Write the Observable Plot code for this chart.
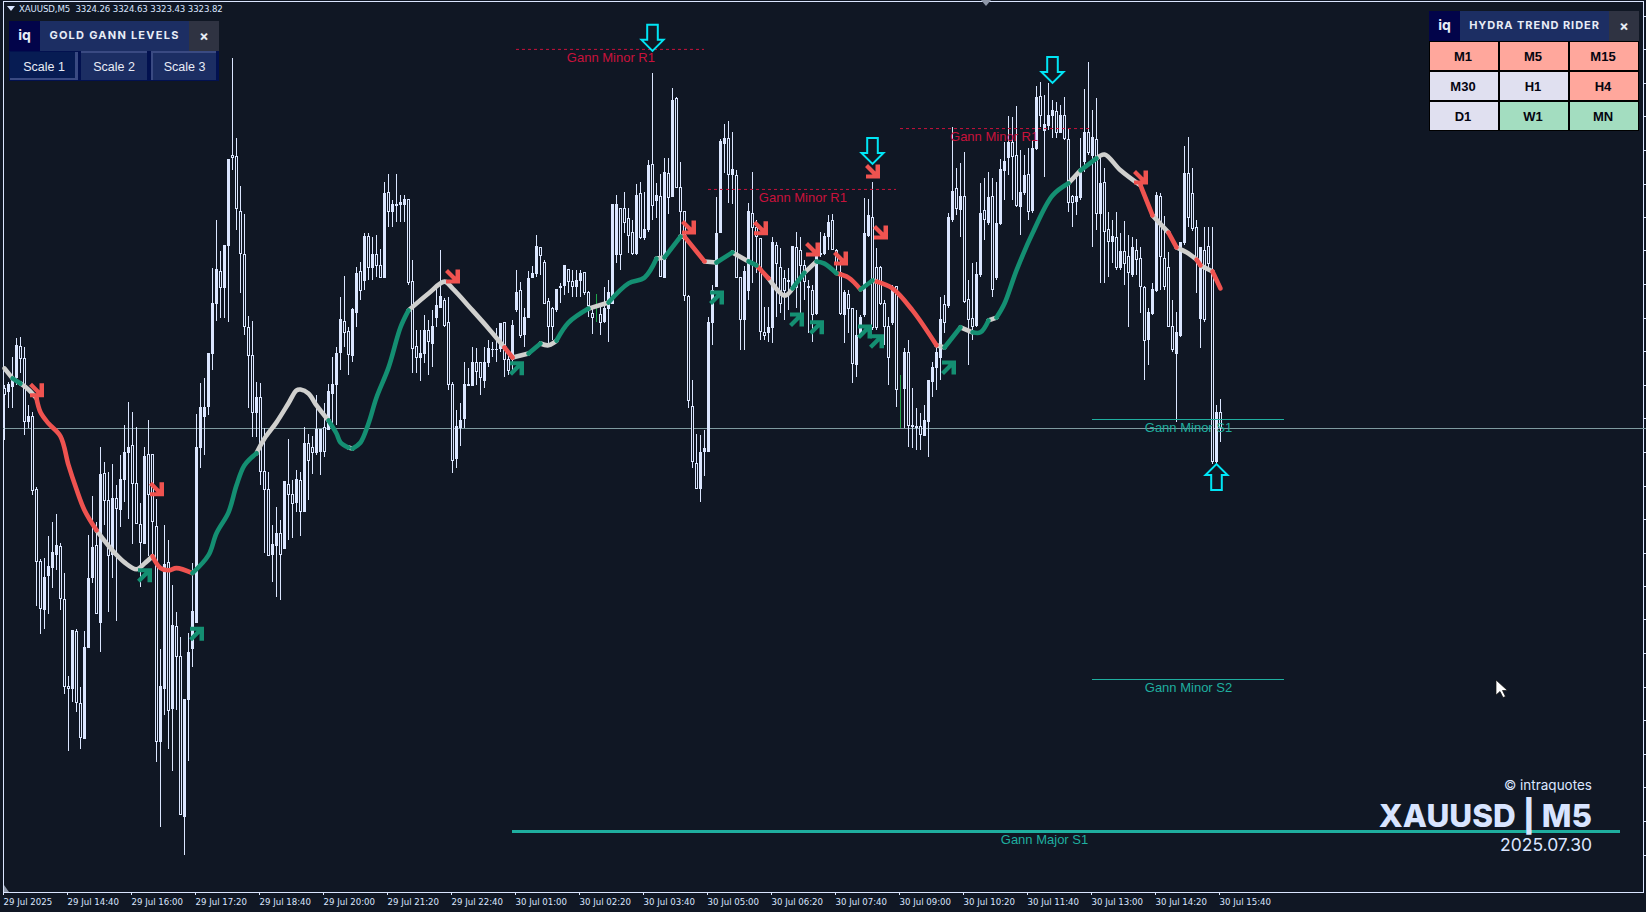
<!DOCTYPE html>
<html><head><meta charset="utf-8">
<script src="https://cdn.jsdelivr.net/npm/d3@7"></script>
<script src="https://cdn.jsdelivr.net/npm/@observablehq/plot@0.6"></script>
<style>
html,body{margin:0;padding:0;background:#101724;width:1646px;height:912px;overflow:hidden}
#chart{position:absolute;left:0;top:0}
.a{position:absolute;box-sizing:border-box;white-space:nowrap}
.cell{position:absolute;display:flex;align-items:center;justify-content:center;padding-right:2px;box-sizing:border-box;font:bold 13px "Liberation Sans",sans-serif;color:#050510}
.hd{display:flex;align-items:center;justify-content:center;color:#e8ecf6}
</style></head><body>
<div id="chart"></div>
<div class="a" style="left:7px;top:6px;width:0;height:0;border-left:4px solid transparent;border-right:4px solid transparent;border-top:5px solid #dbe6ff"></div>
<div class="a" style="left:19px;top:2px;font:8.6px/14px 'DejaVu Sans',sans-serif;color:#dbe6ff;letter-spacing:-.1px">XAUUSD,M5&nbsp; 3324.26 3324.63 3323.43 3323.82</div>
<div class="a" style="left:981px;top:0;width:0;height:0;border-left:5px solid transparent;border-right:5px solid transparent;border-top:6px solid #8e97a8"></div>
<div class="a" style="left:4px;top:885px;width:5px;height:7px;background:#8e97a8;clip-path:polygon(0 0,100% 100%,0 100%)"></div>

<div class="a hd" style="left:9px;top:21px;width:31px;height:30px;padding-bottom:3px;background:#02044a;font:bold 14px Inter,sans-serif">iq</div>
<div class="a hd" style="left:40px;top:21px;width:149px;height:30px;padding-bottom:2px;background:#1c2e63;font:bold 11px Inter,sans-serif;letter-spacing:1.25px">GOLD&nbsp;GANN&nbsp;LEVELS</div>
<div class="a hd" style="left:189px;top:21px;width:30px;height:30px;padding-bottom:1px;background:#2f3342;font:bold 14px Inter,sans-serif">×</div>
<div class="a" style="left:9px;top:51px;width:210px;height:30px;background:#02114f"></div>
<div class="a hd" style="left:10px;top:52px;width:68px;height:28px;padding-left:3px;padding-top:3px;background:#071c53;border-bottom:2px solid #3a4a82;border-right:3px solid #3a4a82;font:12.5px 'Liberation Sans',sans-serif">Scale 1</div>
<div class="a hd" style="left:81px;top:51px;width:66px;height:29px;background:#1c2e63;border-top:2px solid #3a4a82;font:12.5px 'Liberation Sans',sans-serif">Scale 2</div>
<div class="a hd" style="left:151px;top:51px;width:65px;height:29px;background:#1c2e63;border-top:2px solid #3a4a82;border-left:2px solid #3a4a82;font:12.5px 'Liberation Sans',sans-serif">Scale 3</div>

<div class="a hd" style="left:1429px;top:11px;width:31px;height:30px;padding-bottom:3px;background:#02044a;font:bold 14px Inter,sans-serif">iq</div>
<div class="a hd" style="left:1460px;top:11px;width:149px;height:30px;padding-bottom:3px;background:#1c2e63;font:bold 11px Inter,sans-serif;letter-spacing:.95px">HYDRA TREND RIDER</div>
<div class="a hd" style="left:1609px;top:11px;width:30px;height:30px;padding-bottom:2px;background:#2f3342;font:bold 14px Inter,sans-serif">×</div>
<div class="a" id="grid" style="left:1429px;top:41px;width:210px;height:90px;background:#000"></div>

<div class="a" style="right:54px;top:775px;font:13.5px/20px Inter,sans-serif;color:#dbe6ff">© intraquotes</div>
<div class="a" style="right:54px;top:796px;font:800 31.5px/40px Inter,sans-serif;color:#d8e4ff">XAUUSD | M5</div>
<div class="a" style="right:54px;top:834px;font:17.5px/22px Inter,sans-serif;color:#dbe6ff">2025.07.30</div>
<svg class="a" style="left:1495px;top:679px" width="14" height="20"><path d="M1 1V16L5 12.5L8 18.5L10.5 17.5L7.5 11.5H12.5Z" fill="#fff" stroke="#111" stroke-width=".7"/></svg>
<script>
// Panel content
const panelCells = ["M1","M5","M15","M30","H1","H4","D1","W1","MN"];
const panelStates = ["down","down","down","flat","flat","down","flat","up","up"];

// XAUUSD M5 candles, bar 0 = 29 Jul 2025 13:20. Prices are USD above priceBase.
const priceBase = 3300;
const opens = [
24.93,24.82,24.96,25.21,26.07,25.74,23.99,24.13,22.10,20.10,
18.78,19.71,19.94,20.30,20.52,19.05,16.64,16.59,18.17,16.17,
15.20,17.73,19.66,20.55,18.42,22.55,21.80,20.30,21.85,21.55,
22.38,23.13,23.32,22.27,21.13,20.60,23.07,23.07,21.08,15.12,
16.59,20.07,16.03,18.31,17.48,13.03,16.28,17.70,18.42,23.27,
24.13,24.43,25.90,27.27,28.18,27.71,28.88,31.38,31.35,29.82,
28.65,26.60,25.82,24.24,24.66,22.60,22.10,20.30,20.55,20.88,
20.46,22.24,21.97,21.74,22.35,21.49,23.40,23.27,23.15,23.18,
23.82,23.77,24.79,25.02,25.93,26.77,26.49,25.82,27.04,28.18,
27.93,29.15,28.27,28.65,28.32,28.01,30.35,29.82,29.99,30.02,
30.02,30.18,27.88,26.07,25.79,25.88,26.54,26.18,26.90,27.18,
27.35,26.74,25.04,22.96,23.82,24.07,24.99,24.99,25.65,25.65,
25.15,25.63,25.99,25.99,26.04,26.74,25.71,25.71,27.10,27.65,
26.43,26.90,28.01,28.10,28.82,28.43,27.32,27.13,27.10,27.71,
27.79,28.21,27.90,27.74,27.93,28.13,27.57,27.01,26.99,26.96,
26.79,27.15,27.29,28.65,29.93,29.93,29.65,29.24,28.68,30.32,
29.12,29.32,31.15,30.13,30.26,27.99,30.90,30.24,32.96,30.49,
29.82,27.46,24.43,22.82,22.13,23.18,23.18,26.74,27.74,29.26,
31.71,31.85,30.85,30.82,28.01,26.82,27.63,29.79,29.38,29.07,
26.46,26.46,26.60,28.88,28.29,27.96,27.88,27.71,28.82,28.76,
28.32,27.76,27.65,27.01,28.68,28.68,29.13,29.57,28.76,28.13,
26.96,27.54,27.13,25.57,26.38,26.96,29.18,29.68,28.27,28.27,
27.29,26.65,26.76,27.74,24.90,24.93,25.93,23.90,23.85,23.85,
23.60,24.01,25.10,25.51,25.79,27.24,27.21,29.60,30.46,29.88,
30.24,27.38,26.85,26.68,28.07,29.87,29.54,30.24,27.99,29.49,
30.96,31.32,31.76,31.40,29.96,30.35,30.85,29.85,31.57,33.04,
32.07,32.21,32.49,32.60,32.04,32.51,31.82,30.26,30.10,30.21,
31.21,32.04,31.40,31.82,29.79,30.65,29.32,28.99,29.10,28.27,
28.71,28.57,28.07,28.76,28.54,27.71,26.29,27.01,27.65,30.24,
28.54,28.27,26.63,25.88,26.38,28.96,30.88,30.32,29.38,26.85,
28.76,28.85,28.18,22.88,24.26];
const highs = [
25.02,25.10,25.79,26.32,26.35,26.07,24.46,24.27,22.19,20.19,
20.21,20.82,21.22,21.44,20.63,19.80,16.92,18.20,18.23,16.62,
18.17,20.85,21.94,21.22,23.29,22.88,22.60,22.83,22.24,23.07,
23.90,24.54,24.27,23.85,21.74,23.29,24.04,23.07,21.85,17.67,
21.13,20.71,19.46,18.70,18.01,16.28,18.12,20.07,24.21,25.07,
25.21,25.90,28.27,29.60,28.74,28.90,31.29,34.10,31.88,30.54,
29.76,26.93,26.79,25.10,25.07,23.82,22.60,21.13,21.63,21.27,
22.33,23.51,22.38,22.66,22.60,23.85,23.65,23.60,24.74,23.79,
24.52,25.04,25.79,26.07,27.46,28.04,26.63,27.15,28.29,28.43,
29.24,29.24,29.12,29.18,28.79,30.65,30.88,30.15,30.88,30.29,
30.29,30.18,28.49,26.54,26.54,26.96,26.82,27.10,27.74,28.76,
27.43,27.46,25.10,24.32,24.51,25.65,25.49,26.07,26.04,25.65,
26.07,26.26,26.21,26.60,26.74,26.74,25.93,26.82,28.21,27.88,
27.15,28.18,28.32,29.18,28.85,28.49,27.43,27.18,27.68,27.85,
28.32,28.24,28.21,28.21,28.21,28.15,27.63,27.21,27.54,27.24,
27.74,27.93,30.02,30.29,29.93,30.38,29.93,29.60,30.60,30.65,
30.38,31.26,33.68,30.63,30.88,31.32,31.32,33.26,33.01,31.21,
29.82,27.51,25.15,23.65,23.63,23.76,26.90,27.79,30.24,31.85,
32.26,32.35,32.04,30.99,28.01,28.32,30.07,30.93,29.60,29.10,
27.18,27.18,29.13,28.99,28.82,28.21,28.26,28.88,29.26,29.13,
28.49,27.93,27.79,28.76,29.26,29.24,29.74,29.76,28.79,28.57,
27.65,27.65,27.15,27.10,26.96,30.21,30.18,30.65,28.82,28.32,
27.38,26.90,27.79,27.76,25.29,26.04,26.26,24.93,24.38,24.24,
24.46,25.15,25.65,26.21,27.46,27.51,29.79,32.18,31.04,31.18,
31.49,27.93,28.40,28.43,30.63,30.76,30.93,30.76,30.65,31.29,
31.76,32.49,32.46,32.76,31.54,31.40,31.60,31.82,33.32,33.43,
33.07,33.40,32.93,32.88,32.79,33.01,32.15,30.29,30.85,31.88,
33.24,33.99,32.65,32.99,31.35,31.04,29.82,29.60,29.82,29.24,
29.57,29.18,29.13,29.07,28.85,27.76,27.15,27.85,30.38,30.35,
29.71,28.71,27.38,27.04,28.96,31.65,31.90,31.04,29.60,28.82,
29.40,29.40,29.40,24.46,24.63];
const lows = [
23.49,24.38,24.38,25.02,25.35,23.63,23.82,21.97,18.87,18.09,
18.23,18.65,19.38,19.88,18.76,16.42,14.86,16.20,15.92,14.89,
15.20,17.73,19.52,18.65,17.59,21.13,18.70,19.66,18.45,21.08,
21.77,21.30,20.60,21.16,19.41,20.60,20.27,20.21,14.53,12.73,
15.84,14.89,14.28,15.98,13.09,11.95,14.56,17.17,18.42,22.72,
23.07,24.18,25.43,26.79,26.88,26.88,26.77,30.99,29.32,27.57,
26.40,24.38,23.57,23.57,22.24,20.35,20.27,19.55,19.13,19.05,
20.46,20.71,20.77,21.49,20.82,21.49,21.83,22.55,23.07,22.52,
23.01,23.77,23.88,23.90,25.43,26.07,25.29,25.65,26.63,27.38,
27.65,27.93,27.93,28.01,28.01,28.01,29.40,29.40,29.54,29.54,
29.54,27.79,25.35,25.35,25.13,25.63,25.29,25.51,26.63,27.15,
26.63,24.88,22.57,22.71,23.32,23.82,24.99,24.99,25.02,24.74,
24.93,25.51,25.79,25.65,25.93,25.24,25.29,25.43,27.04,26.32,
26.07,26.88,28.01,28.01,28.07,27.27,26.18,26.26,27.04,27.29,
27.51,27.57,27.46,27.46,27.46,27.51,26.90,26.43,26.76,26.40,
26.74,26.21,27.29,28.40,28.21,29.24,28.68,28.63,28.63,29.07,
29.04,29.26,29.60,29.65,28.01,27.99,29.76,30.24,30.51,29.18,
27.35,24.38,22.71,22.13,21.77,22.49,23.18,26.13,27.74,29.26,
30.90,30.07,30.04,27.99,25.99,25.99,27.38,27.85,28.13,26.26,
26.26,26.21,26.18,26.90,27.01,26.82,27.10,27.65,27.15,27.01,
27.38,26.46,26.21,26.96,28.57,28.63,28.76,28.76,28.07,26.96,
26.18,26.46,25.07,25.24,26.32,26.90,29.13,26.54,26.54,27.24,
26.13,25.01,26.68,24.40,23.82,23.82,23.29,23.26,23.21,23.21,
23.60,23.01,24.68,24.88,25.15,26.46,27.15,29.54,29.74,29.13,
27.29,25.57,26.26,26.63,28.01,29.04,29.46,27.46,27.93,29.46,
30.15,30.85,30.15,29.96,29.18,30.29,29.60,29.79,31.54,32.18,
30.79,32.10,31.88,31.88,32.01,31.82,29.82,29.40,29.74,30.15,
30.93,31.40,28.85,29.32,27.85,27.85,28.01,28.40,28.21,28.21,
27.79,26.63,28.01,28.07,27.01,25.15,25.57,26.96,27.60,27.65,
27.65,26.63,25.93,23.99,26.35,28.90,29.40,29.29,27.57,26.04,
26.76,28.21,22.82,22.79,23.43];
const closes = [
24.74,25.02,25.21,26.10,25.74,23.99,24.15,22.08,20.10,18.81,
19.66,19.96,20.35,20.55,19.07,16.64,16.59,18.20,16.20,15.23,
17.73,19.63,20.49,18.67,22.52,21.80,20.27,21.85,21.58,22.38,
23.13,23.29,22.27,21.16,20.63,23.04,21.97,21.22,15.12,16.64,
20.02,15.98,18.34,17.48,13.09,16.28,17.59,18.73,23.27,24.40,
24.40,25.90,27.27,28.21,27.71,28.90,31.29,31.32,29.93,28.68,
26.63,25.82,24.24,24.66,22.60,22.10,20.27,20.58,20.88,20.30,
22.33,21.97,21.72,22.38,21.49,23.40,22.91,23.15,23.77,23.79,
23.18,24.82,25.04,25.90,26.82,26.46,25.85,27.10,28.10,27.63,
29.15,28.27,28.65,28.32,28.01,30.32,29.82,30.02,30.04,30.07,
30.18,27.85,26.04,25.79,25.88,26.54,26.21,26.63,27.21,27.46,
26.68,25.02,22.93,23.85,24.04,25.02,25.04,25.63,25.38,25.21,
25.63,26.04,26.01,26.01,26.71,25.71,25.43,26.68,27.57,26.40,
26.90,27.96,28.10,28.85,28.60,27.27,26.63,26.63,27.68,27.74,
28.32,27.90,27.74,27.93,28.10,27.57,27.21,26.90,26.99,26.74,
27.15,27.57,30.02,30.02,28.65,29.54,29.18,28.68,30.29,29.12,
29.32,31.10,30.01,30.29,28.04,30.93,30.21,32.93,30.51,29.82,
27.49,24.57,22.90,22.13,23.15,23.24,26.74,27.65,29.21,31.79,
31.85,30.85,31.01,28.01,26.82,28.18,29.82,29.38,29.13,26.49,
26.40,26.60,28.96,28.38,27.29,27.65,27.93,28.85,27.71,28.32,
27.90,27.71,26.96,28.76,28.63,29.13,29.54,28.79,28.35,27.01,
27.57,27.15,25.60,26.38,26.90,29.21,29.71,26.60,26.60,27.29,
26.65,25.79,27.65,24.90,24.90,25.93,23.90,23.85,23.82,23.63,
24.04,25.15,25.51,25.93,26.82,26.76,29.68,30.38,29.93,30.24,
27.32,26.82,26.63,28.07,29.79,29.62,30.21,27.68,29.49,30.99,
31.21,31.76,31.35,30.01,30.35,30.82,29.82,31.57,33.01,32.49,
32.24,32.49,32.65,32.04,32.51,31.85,30.07,30.07,30.24,30.93,
32.04,31.46,31.88,29.79,30.60,29.29,28.99,29.15,28.29,28.71,
28.40,28.15,28.82,28.49,27.76,26.26,27.04,27.68,30.29,28.57,
27.74,26.63,25.99,26.46,28.96,30.90,29.68,29.35,28.54,28.82,
26.82,28.40,22.88,24.26,23.82];

// Hydra trend line: bar, price above base, state of the stretch starting there (G flat, R down, U up)
const trendBars = [0,2,4,6,8,9,11,14,16,18,20,23,27,30,33,35,37,39,41,43,47,51,53,56,58,60,63,65,68,71,73,74,76,78,81,83,84,86,87,89,91,93,96,99,101,106,110,112,117,121,125,127,131,134,136,138,141,146,151,156,160,163,165,169,170,175,178,182,186,188,191,195,197,200,203,205,208,211,214,217,218,222,227,233,235,239,242,244,246,248,250,253,257,262,266,269,273,275,279,284,287,291,293,296,298,299,302,304];
const trendPrices = [25.49,25.21,25.07,24.90,24.66,24.27,23.96,23.60,22.80,22.13,21.55,20.99,20.43,20.10,19.91,20.07,20.27,19.94,19.88,19.94,19.80,20.30,20.91,21.49,22.24,22.80,23.13,23.54,23.99,24.52,24.88,24.90,24.79,24.46,24.04,23.68,23.43,23.29,23.26,23.43,23.96,24.68,25.51,26.63,27.10,27.57,27.90,27.71,27.10,26.60,26.07,25.79,25.90,26.18,26.13,26.26,26.76,27.15,27.32,27.85,28.01,28.54,28.57,29.15,29.15,28.46,28.43,28.71,28.46,28.35,27.99,27.51,27.71,28.15,28.46,28.40,28.13,28.01,27.68,27.93,27.90,27.71,27.10,26.13,26.07,26.63,26.49,26.49,26.82,26.90,27.29,28.21,29.24,30.29,30.63,30.99,31.32,31.43,30.99,30.57,29.74,29.26,28.85,28.68,28.51,28.35,28.18,27.71];
const trendStates = "GUGGRRRRRRRGGGGGRRRRUUUUUUGGGGGGGGUUUGUUUUUUGGGGGGRGUGGUUGUUUGUGRGUGURGGUGUURRUGRRRGUGUUGUUUUUGUGGGRGRGGRGR-".split("");

// Signal arrows: bar and price
const sellBars = [8,38,112,171,189,202,209,217,219,284];
const sellPrices = [24.88,22.13,28.04,29.40,29.38,28.79,28.54,30.96,29.26,30.79];
const buyBars = [35,48,128,178,198,203,215,218,236];
const buyPrices = [19.74,18.12,25.49,27.46,26.85,26.63,26.51,26.24,25.51];
const alertDownBars = [162,217,262];
const alertDownPrices = [34.67,31.53,33.78];
const alertUpBars = [303];
const alertUpPrices = [22.47];

// Gann levels
const levelNames = ["Gann Minor R1","Gann Minor R1","Gann Minor R1","Gann Minor S1","Gann Minor S2","Gann Major S1"];
const levelPrices = [34.35,30.46,32.15,24.07,16.86,12.63];
const levelFrom = [128,176,224,272,272,127];
const levelTo = [175,223,271.5,320,320,404];
const levelLabelBar = [151.6,199.6,247.4,296,296,260];

// Time axis
const tickBars = [0,16,32,48,64,80,96,112,128,144,160,176,192,208,224,240,256,272,288,304];
const tickLabels = ["29 Jul 2025","29 Jul 14:40","29 Jul 16:00","29 Jul 17:20","29 Jul 18:40","29 Jul 20:00","29 Jul 21:20","29 Jul 22:40","30 Jul 01:00","30 Jul 02:20","30 Jul 03:40","30 Jul 05:00","30 Jul 06:20","30 Jul 07:40","30 Jul 09:00","30 Jul 10:20","30 Jul 11:40","30 Jul 13:00","30 Jul 14:20","30 Jul 15:40"];
// Unlabelled price-axis ticks
const priceTicks = [35.27,34.34,33.41,32.48,31.54,30.61,29.68,28.75,27.82,26.88,25.95,25.02,24.09,23.16,22.22,21.29,20.36,19.43,18.50,17.56,16.63,15.70,14.77,13.84,12.90,11.97];

// ---- panel ----
const grid = document.getElementById("grid");
const panelColor = {down:"#ffa79c",flat:"#e0e0f0",up:"#a3ddc0"};
panelCells.forEach((t,k)=>{
  const e=document.createElement("div");e.className="cell";e.textContent=t;
  e.style.cssText=`left:${1+70*(k%3)}px;top:${1+30*Math.floor(k/3)}px;width:68px;height:28px;background:${panelColor[panelStates[k]]}`;
  grid.appendChild(e);
});

// ---- rows ----
const P=v=>priceBase+v;
const bars=opens.map((o,i)=>({i,o:P(o),h:P(highs[i]),l:P(lows[i]),c:P(closes[i])}));
const up=bars.filter(d=>d.c>d.o), dn=bars.filter(d=>d.c<d.o);
const trend=[];let run=-1;
trendBars.forEach((b,k)=>{
  if(k===trendBars.length-1) return;
  if(k===0||trendStates[k]!==trendStates[k-1]){run++;trend.push({b,p:P(trendPrices[k]),s:trendStates[k],run});}
  trend.push({b:trendBars[k+1],p:P(trendPrices[k+1]),s:trendStates[k],run});
});
const pts=(bs,ps)=>bs.map((b,k)=>({b,p:P(ps[k])}));
const levels=levelNames.map((name,k)=>({name,p:P(levelPrices[k]),a:levelFrom[k],z:levelTo[k],lb:levelLabelBar[k],res:name.includes("R1"),major:name.includes("Major")}));

// ---- symbols ----
const poly=(ctx,size,pts,sy=1)=>{const r=Math.sqrt(size/Math.PI)/7;pts.forEach(([x,y],k)=>k?ctx.lineTo(x*r,y*r*sy):ctx.moveTo(x*r,y*r*sy));ctx.closePath();};
const slant=[[-7.5,-4.5],[-4.5,-7.5],[3,0],[3,-7],[7.5,-7],[7.5,7],[-6.5,7],[-6.5,3],[0,3]];
const downSym={draw:(c,s)=>poly(c,s,slant)};
const upSym={draw:(c,s)=>poly(c,s,slant,-1)};
const block=[[-5.3,-13],[5.3,-13],[5.3,2],[11,2],[0,13],[-11,2],[-5.3,2]];
const alertDown={draw:(c,s)=>poly(c,s,block)};
const alertUp={draw:(c,s)=>poly(c,s,block,-1)};

const candle="#dbe6ff",bg="#101724",doji="#1fa54a";
const trendColor={G:"#d0d0ce",R:"#ef5350",U:"#148f72"};
const res="#c9123c",sup="#1fae9f";
const crisp={shapeRendering:"crispEdges"};

const plot=Plot.plot({
  width:1646,height:912,marginLeft:3,marginRight:3,marginTop:1,marginBottom:20,
  style:{background:"transparent",fontFamily:"'DejaVu Sans',sans-serif"},
  x:{domain:[-0.25,409.75]},
  y:{domain:[3310.93,3335.68]},
  marks:[
    Plot.frame({stroke:candle,strokeWidth:1,...crisp}),
    Plot.axisX({ticks:tickBars,tickFormat:d=>tickLabels[tickBars.indexOf(d)],anchor:"bottom",tickSize:3,tickPadding:3,textAnchor:"start",dx:-1,fontSize:8.6,color:candle,stroke:candle,label:null,fill:candle}),
    Plot.axisY({ticks:priceTicks.map(P),anchor:"right",tickSize:3,tickFormat:()=>"",stroke:candle,label:null,...crisp}),
    Plot.ruleY([P(closes[closes.length-1])],{x1:-0.25,x2:410.5,stroke:"#7f9ba0",strokeWidth:1,...crisp}),
    Plot.ruleX(bars,{x:"i",y1:"l",y2:"h",stroke:d=>d.c===d.o?doji:candle,strokeWidth:1,...crisp}),
    Plot.rect(dn,{x1:d=>d.i-0.25,x2:d=>d.i+0.25,y1:"o",y2:"c",fill:bg,stroke:candle,strokeWidth:1,...crisp}),
    Plot.rect(up,{x1:d=>d.i-0.25,x2:d=>d.i+0.25,y1:"o",y2:"c",fill:candle,stroke:candle,strokeWidth:1,...crisp}),
    Plot.ruleY(levels.filter(d=>d.res),{y:"p",x1:"a",x2:"z",stroke:res,strokeWidth:1,strokeDasharray:"3,3"}),
    Plot.ruleY(levels.filter(d=>!d.res&&!d.major),{y:"p",x1:"a",x2:"z",stroke:sup,strokeWidth:1,...crisp}),
    Plot.ruleY(levels.filter(d=>d.major),{y:"p",x1:"a",x2:"z",stroke:sup,strokeWidth:3,...crisp}),
    ...["G","R","U"].map(s=>Plot.line(trend.filter(d=>d.s===s),{x:"b",y:"p",z:"run",stroke:trendColor[s],strokeWidth:4.6,strokeLinecap:"round",strokeLinejoin:"round",curve:"catmull-rom"})),
    Plot.dot(pts(sellBars,sellPrices),{x:"b",y:"p",r:7,symbol:downSym,fill:"#ef5350",stroke:"none"}),
    Plot.dot(pts(buyBars,buyPrices),{x:"b",y:"p",r:7,symbol:upSym,fill:"#148f72",stroke:"none"}),
    Plot.dot(pts(alertDownBars,alertDownPrices),{x:"b",y:"p",r:7,symbol:alertDown,fill:"none",stroke:"#00e5f5",strokeWidth:2}),
    Plot.dot(pts(alertUpBars,alertUpPrices),{x:"b",y:"p",r:7,symbol:alertUp,fill:"none",stroke:"#00e5f5",strokeWidth:2}),
    Plot.text(levels,{x:"lb",y:"p",text:"name",fill:d=>d.res?res:sup,fontSize:13,fontFamily:"'Liberation Sans',sans-serif",dy:8.5})
  ]
});
document.getElementById("chart").appendChild(plot);
</script>
</body></html>
